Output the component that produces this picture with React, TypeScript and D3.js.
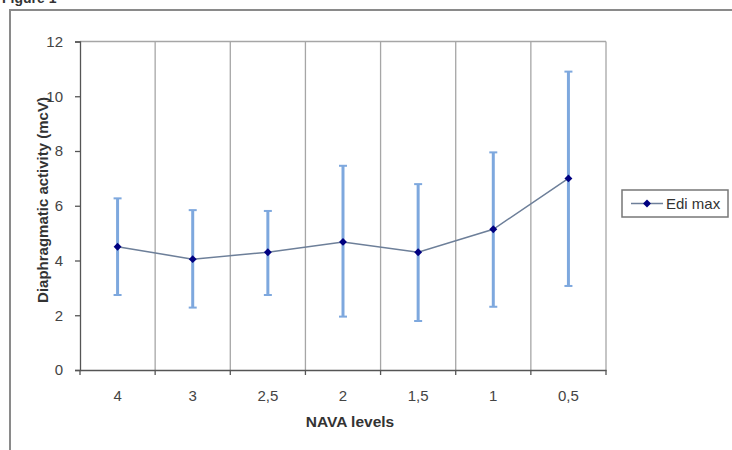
import React, { useRef, useEffect } from "react";
import * as d3 from "d3";

// NAVA levels (categories) and Edi max values with error bar bounds
const levels = ["4", "3", "2,5", "2", "1,5", "1", "0,5"];
const ediMax = [4.5, 4.05, 4.3, 4.68, 4.3, 5.14, 7.0];
const errLow = [2.74, 2.28, 2.74, 1.95, 1.79, 2.31, 3.07];
const errHigh = [6.27, 5.84, 5.81, 7.46, 6.79, 7.95, 10.9];
const yTicks = [0, 2, 4, 6, 8, 10, 12];

export default function App() {
  const svgRef = useRef(null);
  const width = 732;
  const height = 450;

  useEffect(() => {
    const left = 80;
    const right = 606;
    const top = 41.5;
    const bottom = 370;
    const font = "'Liberation Sans', Arial, sans-serif";

    const svg = d3
      .select(svgRef.current)
      .attr("viewBox", `0 0 ${width} ${height}`)
      .attr("width", width)
      .attr("height", height)
      .style("font-family", font);

    svg.selectAll("*").remove();

    svg.append("rect").attr("width", width).attr("height", height).attr("fill", "#fff");

    // caption, cut by the top edge as in the source
    svg
      .append("text")
      .attr("x", 2)
      .attr("y", 3)
      .attr("font-size", 14)
      .attr("font-weight", "bold")
      .attr("fill", "#333")
      .text("Figure 1");

    // outer chart frame, cut by the page edges
    svg
      .append("rect")
      .attr("x", 10)
      .attr("y", 10)
      .attr("width", 760)
      .attr("height", 480)
      .attr("fill", "none")
      .attr("stroke", "#8a8a8a")
      .attr("stroke-width", 2);

    const x = d3.scaleBand().domain(levels).range([left, right]).padding(0);
    const y = d3.scaleLinear().domain([0, 12]).range([bottom, top]);

    // plot area border (top & right) and vertical gridlines at category boundaries
    const bounds = levels.map((l) => x(l)!).slice(1).concat([right]);
    svg
      .append("g")
      .selectAll("line")
      .data(bounds)
      .join("line")
      .attr("x1", (d) => d)
      .attr("x2", (d) => d)
      .attr("y1", top)
      .attr("y2", bottom)
      .attr("stroke", "#a6a6a6")
      .attr("stroke-width", 1.3);
    svg
      .append("line")
      .attr("x1", left)
      .attr("x2", right)
      .attr("y1", top)
      .attr("y2", top)
      .attr("stroke", "#a6a6a6")
      .attr("stroke-width", 1.3);

    // y axis
    const yAxis = svg
      .append("g")
      .attr("transform", `translate(${left},0)`)
      .call(d3.axisLeft(y).tickValues(yTicks).tickSize(5).tickPadding(12).tickFormat(d3.format("d")));
    yAxis.select(".domain").attr("stroke", "#555").attr("stroke-width", 1.3);
    yAxis.selectAll(".tick line").attr("stroke", "#555").attr("stroke-width", 1.3);
    yAxis.selectAll("text").attr("font-size", 15).attr("fill", "#444").attr("font-family", font);

    // x axis
    const xAxis = svg
      .append("g")
      .attr("transform", `translate(0,${bottom})`)
      .call(d3.axisBottom(x).tickSize(0).tickPadding(20));
    xAxis.select(".domain").attr("stroke", "#555").attr("stroke-width", 1.3);
    xAxis.selectAll("text").attr("font-size", 15).attr("fill", "#444").attr("font-family", font);
    xAxis
      .selectAll(".bound")
      .data([left].concat(bounds))
      .join("line")
      .attr("class", "bound")
      .attr("x1", (d) => d)
      .attr("x2", (d) => d)
      .attr("y1", 0)
      .attr("y2", 5)
      .attr("stroke", "#555")
      .attr("stroke-width", 1.3);

    // axis titles
    svg
      .append("text")
      .attr("x", 350)
      .attr("y", 427)
      .attr("text-anchor", "middle")
      .attr("font-size", 15.5)
      .attr("font-weight", "bold")
      .attr("fill", "#333")
      .text("NAVA levels");
    svg
      .append("text")
      .attr("transform", `translate(48,200) rotate(-90)`)
      .attr("text-anchor", "middle")
      .attr("font-size", 15)
      .attr("font-weight", "bold")
      .attr("fill", "#333")
      .text("Diaphragmatic activity (mcV)");

    const cx = (i: number) => x(levels[i])! + x.bandwidth() / 2;

    // error bars
    const eb = svg.append("g").attr("stroke", "#7ea8de").attr("stroke-width", 3);
    levels.forEach((_, i) => {
      eb.append("line")
        .attr("x1", cx(i))
        .attr("x2", cx(i))
        .attr("y1", y(errLow[i]))
        .attr("y2", y(errHigh[i]));
      [errLow[i], errHigh[i]].forEach((v) => {
        eb.append("line")
          .attr("x1", cx(i) - 4)
          .attr("x2", cx(i) + 4)
          .attr("y1", y(v))
          .attr("y2", y(v))
          .attr("stroke-width", 2);
      });
    });

    // series line
    const line = d3
      .line<number>()
      .x((_, i) => cx(i))
      .y((d) => y(d));
    svg
      .append("path")
      .datum(ediMax)
      .attr("fill", "none")
      .attr("stroke", "#6d7f99")
      .attr("stroke-width", 1.5)
      .attr("d", line);

    const diamond = d3.symbol().type(d3.symbolDiamond2).size(40);
    svg
      .append("g")
      .selectAll("path")
      .data(ediMax)
      .join("path")
      .attr("transform", (d, i) => `translate(${cx(i)},${y(d)})`)
      .attr("d", diamond)
      .attr("fill", "#000080");

    // legend
    const lg = svg.append("g").attr("transform", "translate(622,190)");
    lg.append("rect")
      .attr("width", 106)
      .attr("height", 27)
      .attr("fill", "#fff")
      .attr("stroke", "#777")
      .attr("stroke-width", 1.5);
    lg.append("line")
      .attr("x1", 9)
      .attr("x2", 41)
      .attr("y1", 13.5)
      .attr("y2", 13.5)
      .attr("stroke", "#6d7f99")
      .attr("stroke-width", 1.5);
    lg.append("path")
      .attr("transform", "translate(25,13.5)")
      .attr("d", diamond)
      .attr("fill", "#000080");
    lg.append("text")
      .attr("x", 44)
      .attr("y", 19)
      .attr("font-size", 15)
      .attr("fill", "#333")
      .text("Edi max");
  }, []);

  return <svg ref={svgRef} style={{ position: "absolute", left: 0, top: 0 }}></svg>;
}
